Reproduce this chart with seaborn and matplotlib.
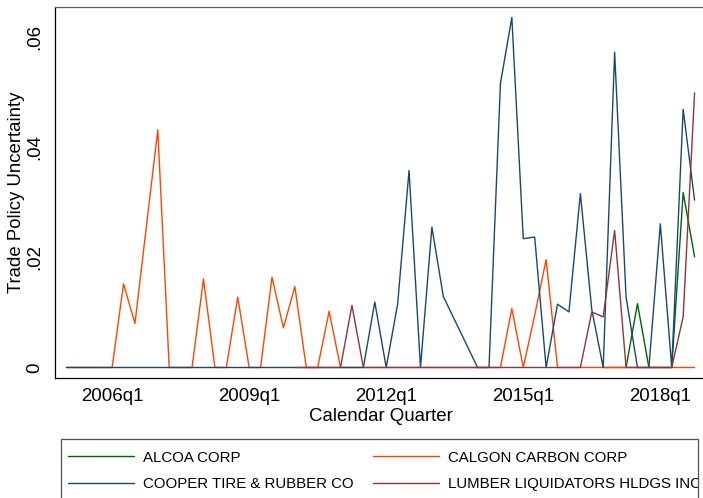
import matplotlib
matplotlib.use("Agg")
import matplotlib.pyplot as plt
from matplotlib.lines import Line2D
from matplotlib.patches import Rectangle
import seaborn as sns
import pandas as pd
import numpy as np

# quarters 2005q1 .. 2018q4
quarters = [f"{y}q{q}" for y in range(2005, 2019) for q in range(1, 5)]
nan = np.nan

alcoa = [nan] * 47 + [0, 0, 0, 0.0116, 0, 0, 0, 0.0318, 0.0201]

calgon = [0, 0, 0, 0, 0, 0.0152, 0.0080, 0.0256, 0.0432, 0,
          0, 0, 0.0161, 0, 0, 0.0128, 0, 0, 0.0164, 0.0072,
          0.0147, 0, 0, 0.0102, 0, 0, 0, 0, 0, 0,
          0, 0, 0, 0, 0, 0, 0, 0, 0, 0.0107,
          0, 0.0095, 0.0196, 0, 0, 0, 0, 0, 0, 0,
          0, 0, 0, 0, 0, 0]

cooper = [0, 0, 0, 0, 0, 0, 0, 0, 0, 0,
          0, 0, 0, 0, 0, 0, 0, 0, 0, 0,
          0, 0, 0, 0, 0, 0, 0, 0.0119, 0, 0.0115,
          0.0358, 0, 0.0255, 0.0129, 0.0086, 0.0043, 0, 0, 0.0516, 0.0636,
          0.0234, 0.0237, 0, 0.0115, 0.0101, 0.0316, 0.0105, 0, 0.0573, 0.0128,
          0, 0, 0.0261, 0, 0.0469, 0.0304]

lumber = [nan] * 20 + [0, 0, 0, 0, 0, 0.0113, 0, 0, 0, 0,
                       0, 0, 0, 0, 0, 0, 0, 0, 0, 0,
                       0, 0, 0, 0, 0, 0, 0.0101, 0.0092, 0.0249, 0,
                       0, 0, 0, 0, 0.0092, 0.0499]

firms = ["ALCOA CORP", "CALGON CARBON CORP", "COOPER TIRE & RUBBER CO",
         "LUMBER LIQUIDATORS HLDGS INC"]
colors = ["#006400", "#FF4500", "#1A476F", "#90353B"]

xtick_labels = ["2006q1", "2009q1", "2012q1", "2015q1", "2018q1"]
ytick_vals = [0, 0.02, 0.04, 0.06]
ytick_labels = ["0", ".02", ".04", ".06"]

frames = []
for name, vals in zip(firms, [alcoa, calgon, cooper, lumber]):
    frames.append(pd.DataFrame({"t": np.arange(len(quarters)), "tpu": vals, "firm": name}))
df = pd.concat(frames, ignore_index=True)

sns.set_theme(style="white")
plt.rcParams["font.family"] = ["Liberation Sans", "DejaVu Sans"]

W, H = 703, 498
fig = plt.figure(figsize=(W / 100, H / 100), dpi=100)
ax = fig.add_axes([55 / W, 1 - 378 / H, (706 - 55) / W, (378 - 7) / H])

# one call per firm so the drawing order matches the legend order
for name, c in zip(firms, colors):
    sns.lineplot(data=df[df["firm"] == name], x="t", y="tpu", color=c,
                 linewidth=1.0, errorbar=None, legend=False, ax=ax)

ax.set_xlim(-1, 56)
ax.set_ylim(-0.00191, 0.0655)
ax.set_xticks([quarters.index(q) for q in xtick_labels])
ax.set_xticklabels(xtick_labels)
ax.set_yticks(ytick_vals)
ax.set_yticklabels(ytick_labels, rotation=90, va="center")
ax.tick_params(axis="both", direction="out", length=4.5, width=0.9,
               color="black", labelsize=13.4, labelcolor="black")
ax.tick_params(axis="x", pad=2.5)
ax.tick_params(axis="y", pad=4)
ax.set_xlabel("Calendar Quarter", fontsize=13.4, labelpad=2, color="black")
ax.set_ylabel("Trade Policy Uncertainty", fontsize=13.4, labelpad=1, color="black")

for s in ["left", "bottom"]:
    ax.spines[s].set_color("black")
    ax.spines[s].set_linewidth(0.9)
ax.spines["top"].set_color("#606060")
ax.spines["top"].set_linewidth(0.9)
ax.spines["right"].set_visible(False)

# legend fills row by row: ALCOA, CALGON / COOPER, LUMBER
order = [0, 2, 1, 3]
handles = [Line2D([], [], color=colors[i], linewidth=1.0) for i in order]
labels = [firms[i] for i in order]
leg = fig.legend(handles, labels, ncol=2, loc="upper left",
                 bbox_to_anchor=(68 / W, 1 - 450.5 / H), frameon=False,
                 fontsize=10.8, handlelength=4.4, handletextpad=0.6,
                 columnspacing=1.27, labelspacing=0.85,
                 borderpad=0, borderaxespad=0)
for t in leg.get_texts():
    t.set_color("black")

# legend box runs past the right edge and clips the last label
fig.add_artist(Rectangle((698.5 / W, 0), 10 / W, 1 - 439 / H, transform=fig.transFigure,
                         facecolor="white", edgecolor="none", zorder=6))
fig.add_artist(Rectangle((61 / W, -20 / H), (698 - 61) / W, (20 + 498 - 439) / H,
                         transform=fig.transFigure, facecolor="none",
                         edgecolor="#505050", linewidth=0.9, zorder=7))

fig.savefig("out.png", dpi=100)
